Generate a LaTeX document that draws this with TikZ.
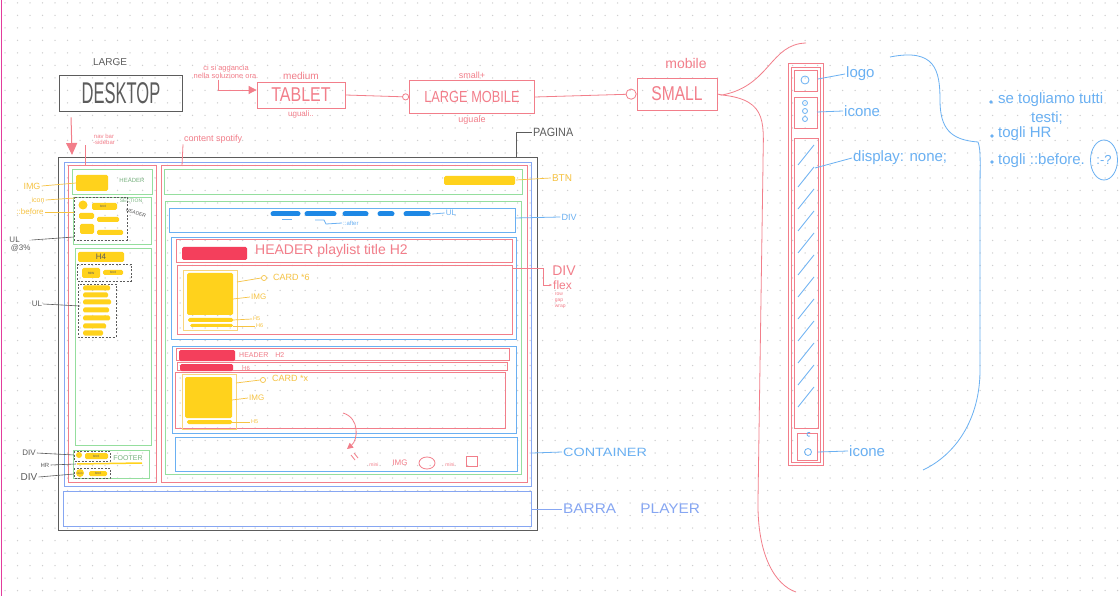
\documentclass[tikz,border=0pt]{standalone}
\usepackage{fontspec}
\setmainfont{Liberation Sans}
\usetikzlibrary{arrows.meta,positioning,shapes.geometric}
\definecolor{pen}{HTML}{5C5C5C}
\definecolor{skred}{HTML}{F27E8A}
\definecolor{skgreen}{HTML}{95DE9E}
\definecolor{skblue}{HTML}{86A6F2}
\definecolor{boxblue}{HTML}{6AB0F2}
\definecolor{ylw}{HTML}{FFD21C}
\definecolor{orng}{HTML}{F6C344}
\definecolor{hot}{HTML}{F43F5C}
\definecolor{ulblue}{HTML}{1E88E5}
\definecolor{magen}{HTML}{E23C9C}
\definecolor{dotc}{HTML}{CFCFCF}
\newcommand{\fsz}[1]{\fontsize{#1}{#1}\selectfont}
\newcommand{\hand}[2][0.75]{\scalebox{#1}[1]{#2}}

\begin{document}
\begin{tikzpicture}[x=1pt,y=-1pt,
	penln/.style={draw=pen,line width=0.9},
	redln/.style={draw=skred,line width=0.8},
	grnln/.style={draw=skgreen,line width=0.8},
	bluln/.style={draw=skblue,line width=0.9},
	boxln/.style={draw=boxblue,line width=0.8},
	dashbox/.style={draw=pen,line width=0.6,dash pattern=on 2pt off 1.5pt},
	ybar/.style={fill=ylw,rounded corners=1.5},
	lbl/.style={inner sep=1pt},
	redtxt/.style={lbl,text=skred},
	bluetxt/.style={lbl,text=boxblue},
	graytxt/.style={lbl,text=pen},
	yeltxt/.style={lbl,text=orng},
	grntxt/.style={lbl,text=skgreen!80!black}]
	\useasboundingbox (0,0) rectangle (1120,596);
	%% paper
	\fill[white] (0,0) rectangle (1120,596);
	\foreach \i in {0,...,89}
		\foreach \j in {0,...,47}
			\fill[dotc] ({5+12.5*\i},{3+12.5*\j}) circle (0.75);
	\draw[magen,line width=1.4] (1.5,0) -- (1.5,596);
	%% breakpoints
	\node[graytxt,font=\fsz{10}] (large) at (110,62) {LARGE};
	\node[penln,minimum width=123,minimum height=36,text=pen,font=\fsz{30}] (desktop) at (121,93) {\hand[0.55]{DESKTOP}};
	\node[redtxt,align=center,font=\fsz{7.5}] (note) at (226,72) {ci si aggancia\\nella soluzione ora.};
	\node[redln,minimum width=88,minimum height=26,text=skred,font=\fsz{20}] (tablet) at (301,95) {\hand[0.8]{TABLET}};
	\node[redtxt,font=\fsz{10},above=1pt of tablet] (tabletup) {medium};
	\node[redtxt,font=\fsz{8},below=1pt of tablet] (tabletdn) {uguali..};
	\node[redln,minimum width=125,minimum height=33,text=skred,font=\fsz{16}] (lmobile) at (472,97) {\hand[0.8]{LARGE MOBILE}};
	\node[redtxt,font=\fsz{9},above=0pt of lmobile] (lmobileup) {small+};
	\node[redtxt,font=\fsz{9},below=1pt of lmobile] (lmobiledn) {uguale};
	\node[redln,minimum width=80,minimum height=32,text=skred,font=\fsz{20}] (smallbp) at (677,94) {\hand[0.78]{SMALL}};
	\node[redtxt,font=\fsz{14}] (smallup) at (686,63) {mobile};
	%%% flow
	\draw[redln,-{Triangle[length=8pt,width=8pt]}] ([xshift=-8]note.south) |- ([yshift=5]tablet.west);
	\draw[redln,-{Circle[open,length=7pt]}] (tablet.east) -- (lmobile.west);
	\draw[redln,-{Circle[open,length=11pt]}] (lmobile.east) -- (smallbp.west);
	\coordinate (pagetop) at (72,155);
	\draw[redln,line width=1,-{Triangle[length=12pt,width=11pt]}] ([xshift=12,yshift=-6]desktop.south west) -- (pagetop);
	%% big brace
	\coordinate (bracetip) at (722,95);
	\draw[redln] (smallbp.east) -- (bracetip);
	\draw[redln] (806,43) .. controls (770,44) and (770,86) .. (bracetip) .. controls (770,100) and (763,125) .. (763,165) -- (758,500) .. controls (757,555) and (775,585) .. (796,592);
	%% mobile sidebar
	\draw[redln] (788,63) rectangle (823,465);
	\draw[redln] (791,67) rectangle (820,462);
	\draw[redln] (794,70) rectangle (817,91);
	\draw[redln] (794,97) rectangle (817,128);
	\draw[redln] (794,138) rectangle (818,428);
	\draw[redln] (797,433) rectangle (817,460);
	\draw[boxln] (805,80) circle (4);
	\foreach \y in {103,111,119}
		\draw[boxln] (805,\y) circle (2.5);
	\foreach \y in {145,167,...,405}
		\draw[boxln] (798,\y+20) -- (814,\y);
	\draw[boxln] (810,436) arc (60:300:2);
	\draw[boxln] (808,452) circle (3.5);
	\coordinate (logopt) at (818,79);
	\coordinate (iconpt) at (817,112);
	\coordinate (disppt) at (815,168);
	\coordinate (iconbpt) at (818,452);
	\node[bluetxt,font=\fsz{15},anchor=west] (logo) at (845,74) {logo};
	\node[bluetxt,font=\fsz{15},anchor=west] (icone) at (843,111) {icone};
	\node[bluetxt,font=\fsz{15},anchor=west] (display) at (852,158) {display: none;};
	\node[bluetxt,font=\fsz{15},anchor=west] (iconeb) at (848,451) {icone};
	\draw[boxln] (logopt) -- (logo.west);
	\draw[boxln] (iconpt) -- (icone.west);
	\draw[boxln] (disppt) -- (display.west);
	\draw[boxln] (iconbpt) -- (iconeb.west);
	%% notes
	\draw[boxln] (890,57) .. controls (935,48) and (940,70) .. (940,100) .. controls (940,128) and (950,140) .. (978,142) .. controls (981,150) and (980,160) .. (980,200) -- (980,370) .. controls (980,420) and (955,455) .. (923,470);
	\fill[boxblue] (991,102) circle (1.8);
	\fill[boxblue] (992,136) circle (1.8);
	\fill[boxblue] (992,162) circle (1.8);
	\node[bluetxt,font=\fsz{15},anchor=west] (note1) at (997,100) {se togliamo tutti};
	\node[bluetxt,font=\fsz{15},anchor=west] (note1b) at (1030,118) {testi;};
	\node[bluetxt,font=\fsz{15},anchor=west] (note2) at (997,134) {togli HR};
	\node[bluetxt,font=\fsz{15},anchor=west] (note3) at (997,161) {togli ::before.};
	\node[draw=boxblue,line width=0.8,ellipse,minimum width=27,minimum height=40,inner sep=0pt,text=boxblue,font=\fsz{13}] (smiley) at (1104,160) {:-?};
	%% page frame
	\draw[penln] (58,157) rectangle (537,530);
	\draw[bluln] (64,162) rectangle (531,486);
	\draw[bluln] (63,491) rectangle (531,526);
	\draw[redln] (68,165) rectangle (156,482);
	\draw[redln] (161,165) rectangle (527,482);
	\node[redtxt,font=\fsz{9},anchor=west] (spotify) at (183,139) {content spotify};
	\node[redtxt,font=\fsz{6},align=center] (navbar) at (104,139) {nav bar\\-sidebar};
	\coordinate (navpt) at (85,166);
	\coordinate (spotpt) at (182,166);
	\draw[redln] (navpt) -- (navpt |- navbar.south);
	\draw[redln] (spotpt) -- (spotify.south west);
	\coordinate (pagecorner) at (516,157);
	\node[graytxt,font=\fsz{12},anchor=west] (pagina) at (532,132) {\hand[0.9]{PAGINA}};
	\draw[penln] (pagecorner) |- (pagina.west);
	%% left sidebar
	\draw[grnln] (72,169) rectangle (152,194);
	\fill[ybar] (76,175) rectangle (108,191);
	\node[grntxt,font=\fsz{6}] (hdrtop) at (132,180) {HEADER};
	\draw[grnln] (73,197) rectangle (151,244);
	\node[grntxt,font=\fsz{5}] (section) at (131,201) {SECTION};
	\draw[dashbox] (74,197) rectangle (127,240);
	\node[graytxt,font=\fsz{5},rotate=-20] (hdrside) at (136,213) {HEADER};
	\fill[ylw] (83,205) circle (4.5);
	\fill[ybar] (92,203) rectangle (117,210);
	\node[graytxt,font=\fsz{3.5}] (txta) at (103,206.5) {text};
	\fill[ybar] (79,213) rectangle (94,219);
	\fill[ybar] (97,217) rectangle (119,222);
	\fill[ybar] (80,224) rectangle (94,234);
	\fill[ybar] (97,230) rectangle (123,235);
	\draw[grnln] (75,248) rectangle (151,445);
	\fill[ybar] (78,252) rectangle (124,262);
	\node[graytxt,font=\fsz{8}] (hfour) at (101,257) {H4};
	\draw[dashbox] (77,264) rectangle (131,281);
	\fill[ybar] (82,268) rectangle (100,278);
	\node[graytxt,font=\fsz{4}] (rowtxt) at (91,273) {row};
	\fill[ybar] (103,270) rectangle (123,275);
	\node[graytxt,font=\fsz{3.5}] (txtb) at (113,272.5) {text};
	\draw[dashbox] (78,284) rectangle (116,337);
	\foreach \y/\w in {288/110,295/108,302/111,310/109,318/110,326/106,333/103}
		\fill[ybar] (83,\y-2.5) rectangle (\w,\y+2.5);
	%%% footer
	\draw[grnln] (73,450) rectangle (149,478);
	\node[grntxt,font=\fsz{7}] (footer) at (128,458) {FOOTER};
	\draw[dashbox] (74,451) rectangle (110,461);
	\fill[ylw] (79,455) circle (3);
	\fill[ybar] (85,453) rectangle (108,459);
	\node[graytxt,font=\fsz{3.5}] (txtc) at (96,456) {text};
	\draw[ylw,line width=1.5] (77,464) -- (142,463);
	\draw[dashbox] (74,468) rectangle (110,478);
	\fill[ylw] (80,473) circle (4);
	\node[graytxt,font=\fsz{3}] (icontxt) at (80,473) {icon};
	\fill[ybar] (89,471) rectangle (107,476);
	\node[graytxt,font=\fsz{3.5}] (txtd) at (98,473.5) {text};
	%%% left labels
	\coordinate (imgpt) at (76,183);
	\coordinate (iconpta) at (75,198);
	\coordinate (beforept) at (74,212);
	\coordinate (ulhdrpt) at (74,237);
	\coordinate (ullistpt) at (80,306);
	\coordinate (divapt) at (74,455);
	\coordinate (hrpt) at (76,464);
	\coordinate (divbpt) at (74,474);
	\node[yeltxt,font=\fsz{9}] (imglbl) at (32,186) {IMG};
	\node[yeltxt,font=\fsz{7}] (iconlbl) at (38,200) {icon};
	\node[yeltxt,font=\fsz{8}] (beforelbl) at (30,212) {::before};
	\node[graytxt,font=\fsz{8},align=left] (ulhdrlbl) at (20,244) {UL\\ \,@3\%};
	\node[graytxt,font=\fsz{8}] (ullistlbl) at (37,304) {UL};
	\node[graytxt,font=\fsz{8}] (divalbl) at (29,453) {DIV};
	\node[graytxt,font=\fsz{6}] (hrlbl) at (45,465) {HR};
	\node[graytxt,font=\fsz{10}] (divblbl) at (29,477) {DIV};
	\draw[orng,line width=0.7] (imglbl.east) -- (imgpt);
	\draw[orng,line width=0.7] (iconlbl.east) -- (iconpta);
	\draw[orng,line width=0.7] (beforelbl.east) -- (beforept);
	\draw[pen,line width=0.6] ([yshift=4]ulhdrlbl.east) -- (ulhdrpt);
	\draw[pen,line width=0.6] (ullistlbl.east) -- (ullistpt);
	\draw[pen,line width=0.6] (divalbl.east) -- (divapt);
	\draw[pen,line width=0.6] (hrlbl.east) -- (hrpt);
	\draw[pen,line width=0.6] (divblbl.east) -- (divbpt);
	%% content
	\draw[grnln] (164,169) rectangle (522,194);
	\fill[ybar] (444,176) rectangle (515,185);
	\coordinate (btnpt) at (516,180);
	\node[yeltxt,font=\fsz{10}] (btnlbl) at (562,178) {BTN};
	\draw[orng,line width=0.7] (btnpt) -- (btnlbl.west);
	\draw[grnln] (165,201) rectangle (521,474);
	%%% tabs
	\draw[boxln] (169,208) rectangle (515,232);
	\foreach \a/\b in {273/298,307/334,345/366,380/392,406/428}
		\draw[ulblue,line width=5,line cap=round] (\a,214) -- (\b,214);
	\coordinate (tabspt) at (432,214);
	\node[bluetxt,font=\fsz{8}] (tabsul) at (451,213) {UL};
	\draw[boxln] (tabspt) -- (tabsul.west);
	\draw[boxln] (282,219) -- (292,219);
	\node[bluetxt,font=\fsz{6},anchor=west] (after) at (342,223) {::after};
	\draw[boxln] (315,220) -- (324,220) -- (326,224) -- (after.west);
	\coordinate (tabsbox) at (515,218);
	\node[bluetxt,font=\fsz{9}] (tabsdiv) at (569,217) {DIV};
	\draw[boxln] (tabsbox) -- (tabsdiv.west);
	%%% playlist 1
	\draw[boxln] (171,237) rectangle (516,339);
	\draw[redln] (176,239) rectangle (512,262);
	\fill[hot,rounded corners=1.5] (182,247) rectangle (247,260);
	\node[redtxt,font=\fsz{14},anchor=west] (plhead) at (254,251) {HEADER playlist title H2};
	\draw[redln] (177,265) rectangle (512,334);
	\draw[orng!70,line width=0.7] (183,270) rectangle (237,330);
	\fill[ybar] (187,273) rectangle (233,315);
	\fill[ybar] (188,318) rectangle (233,322);
	\fill[ybar] (190,324) rectangle (233,327);
	\coordinate (carda) at (237,282);
	\coordinate (imga) at (233,299);
	\coordinate (hfivea) at (233,320);
	\coordinate (hsixa) at (233,326);
	\node[circle,draw=orng,line width=0.7,inner sep=1.8pt] (cardsyma) at (264,278) {};
	\node[yeltxt,font=\fsz{9},anchor=west] (cardlbla) at (272,277) {CARD *6};
	\node[yeltxt,font=\fsz{8},anchor=west] (imglbla) at (250,297) {IMG};
	\node[yeltxt,font=\fsz{5.5},anchor=west] (hfivelbla) at (252,319) {H5};
	\node[yeltxt,font=\fsz{5.5},anchor=west] (hsixlbla) at (255,326) {H6};
	\draw[orng,line width=0.7] (carda) -- (cardsyma.west);
	\draw[orng,line width=0.7] (imga) -- (imglbla.west);
	\draw[orng,line width=0.7] (hfivea) -- (hfivelbla.west);
	\draw[orng,line width=0.7] (hsixa) -- (hsixlbla.west);
	%%% flex note
	\coordinate (flexpt) at (513,268);
	\coordinate (flexbend) at (543,268);
	\node[redtxt,font=\fsz{14}] (flexdiv) at (564,271) {DIV};
	\node[redtxt,font=\fsz{12},anchor=west] (flexlbl) at (552,285) {flex};
	\node[redtxt,font=\fsz{5},align=left,anchor=north west] (flexlist) at (550,292) {$\cdot$ row\\[1pt] $\cdot$ gap\\[1pt] $\cdot$ wrap};
	\draw[redln,-{Stealth[length=3pt]}] (flexpt) -- (flexbend) |- (flexlbl.west);
	%%% playlist 2
	\draw[boxln] (172,346) rectangle (516,433);
	\draw[redln] (176,348) rectangle (509,360);
	\fill[hot,rounded corners=1.5] (179,350) rectangle (235,361);
	\node[redtxt,font=\fsz{7},anchor=west] (hdrtwo) at (238,355) {HEADER\quad H2};
	\draw[redln] (177,362) rectangle (507,370);
	\fill[hot,rounded corners=1.5] (180,364) rectangle (233,371);
	\node[redtxt,font=\fsz{6},anchor=west] (hsixtwo) at (241,368) {H6};
	\draw[redln] (175,372) rectangle (505,428);
	\draw[orng!70,line width=0.7] (182,374) rectangle (236,429);
	\fill[ybar] (185,377) rectangle (232,418);
	\fill[ybar] (187,420) rectangle (232,424);
	\coordinate (cardb) at (236,383);
	\coordinate (imgb) at (232,400);
	\coordinate (hfiveb) at (232,422);
	\node[circle,draw=orng,line width=0.7,inner sep=1.8pt] (cardsymb) at (263,380) {};
	\node[yeltxt,font=\fsz{9},anchor=west] (cardlblb) at (271,378) {CARD *x};
	\node[yeltxt,font=\fsz{8},anchor=west] (imglblb) at (248,398) {IMG};
	\node[yeltxt,font=\fsz{5.5},anchor=west] (hfivelblb) at (250,422) {H5};
	\draw[orng,line width=0.7] (cardb) -- (cardsymb.west);
	\draw[orng,line width=0.7] (imgb) -- (imglblb.west);
	\draw[orng,line width=0.7] (hfiveb) -- (hfivelblb.west);
	%%% container
	\draw[boxln] (175,437) rectangle (517,471);
	\coordinate (arrfrom) at (343,413);
	\coordinate (arrto) at (347,449);
	\draw[redln,-{Triangle[length=6pt,width=6pt]}] (arrfrom) .. controls (360,418) and (358,440) .. (arrto);
	\draw[redln] (351,455) -- (355,460);
	\draw[redln] (354,453) -- (358,458);
	\node[redtxt,font=\fsz{5}] (minia) at (374,465) {mini};
	\node[redtxt,font=\fsz{8}] (miniimg) at (400,463) {IMG};
	\draw[redln] (427,463) ellipse (8 and 6);
	\node[redtxt,font=\fsz{5}] (minib) at (450,465) {mini};
	\draw[redln] (466,456) rectangle (477,466);
	\coordinate (contpt) at (532,453);
	\node[bluetxt,font=\fsz{12},anchor=west] (container) at (562,452) {\hand[1.2]{CONTAINER}};
	\draw[boxln] (contpt) -- (container.west);
	%% player
	\coordinate (barpt) at (531,509);
	\node[lbl,text=skblue,font=\fsz{14},anchor=west] (barra) at (562,509) {\hand[1.1]{BARRA\hspace{22pt}PLAYER}};
	\draw[bluln] (barpt) -- (barra.west);
\end{tikzpicture}
\end{document}
